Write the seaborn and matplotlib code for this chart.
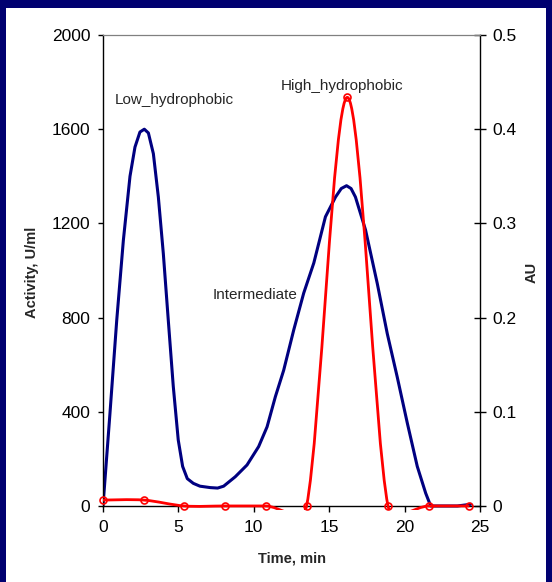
import numpy as np
import matplotlib
matplotlib.use('Agg')
import matplotlib.pyplot as plt
from matplotlib.path import Path
from matplotlib.patches import PathPatch, Rectangle
import seaborn as sns

# --- dados ---
# atividade (U/ml), eixo esquerdo, pontos com marcador
time_red = [0, 2.7, 5.4, 8.1, 10.8, 13.5, 16.2, 18.9, 21.6, 24.3]
activity = [25, 25, 0, 0, 0, 0, 1735, 0, 0, 0]

# absorbância (AU), eixo direito, curva contínua
time_blue = [0, 0.46, 0.91, 1.35, 1.79, 2.12, 2.45, 2.74, 3.01, 3.34, 3.67, 4.0,
             4.33, 4.66, 4.99, 5.28, 5.59, 5.99, 6.43, 7.11, 7.6, 8.0, 8.77, 9.55,
             10.32, 10.88, 11.43, 11.98, 12.65, 13.31, 13.98, 14.75, 15.42, 15.8,
             16.15, 16.45, 16.74, 17.41, 18.19, 18.85, 19.51, 20.18, 20.84, 21.40,
             21.73, 23.50, 24.39]
au_blue = [0, 0.098, 0.197, 0.282, 0.350, 0.381, 0.397, 0.400, 0.396, 0.374, 0.328,
           0.268, 0.197, 0.127, 0.070, 0.042, 0.029, 0.024, 0.021, 0.0195, 0.019,
           0.021, 0.031, 0.0435, 0.063, 0.084, 0.116, 0.144, 0.187, 0.226, 0.258,
           0.307, 0.328, 0.337, 0.340, 0.337, 0.328, 0.293, 0.236, 0.183, 0.137,
           0.088, 0.042, 0.0135, 0, 0, 0.0018]

x_ticks = [0, 5, 10, 15, 20, 25]
act_ticks = [0, 400, 800, 1200, 1600, 2000]
au_ticks = [0, 0.1, 0.2, 0.3, 0.4, 0.5]
au_tick_labels = ['0', '0.1', '0.2', '0.3', '0.4', '0.5']
peak_names = ['Low_hydrophobic', 'High_hydrophobic', 'Intermediate']

NAVY = '#000070'
BLUE = '#000080'
RED = '#ff0000'


def _arm(vec, limit):
    # braço de controle (P2-P0)/6, limitado a metade da corda vizinha
    a = vec / 6
    L = np.hypot(*a)
    if L > limit and L > 0:
        a = a * limit / L
    return a


def excel_smooth(ax, xs, ys):
    # curva suavizada tipo Excel, calculada em pixels
    pts = ax.transData.transform(np.column_stack([xs, ys]).astype(float))
    n = len(pts)
    verts = [pts[0]]
    codes = [Path.MOVETO]
    for i in range(n - 1):
        p0 = pts[max(i - 1, 0)]
        p1 = pts[i]
        p2 = pts[i + 1]
        p3 = pts[min(i + 2, n - 1)]
        d12 = np.hypot(*(p2 - p1))
        c1 = p1 + _arm(p2 - p0, d12 / 2)
        c2 = p2 - _arm(p3 - p1, d12 / 2)
        verts += [c1, c2, p2]
        codes += [Path.CURVE4] * 3
    verts = ax.transData.inverted().transform(np.array(verts))
    return Path(verts, codes)


sns.set_style("ticks")
plt.rcParams['font.family'] = ['Liberation Sans', 'DejaVu Sans']

W, H = 552, 582
fig = plt.figure(figsize=(W / 100, H / 100), dpi=100)
fig.patch.set_facecolor(NAVY)
fig.add_artist(Rectangle((6 / W, 0), 540 / W, (H - 8) / H, transform=fig.transFigure,
                         facecolor='white', edgecolor='none', zorder=0))

ax = fig.add_axes([103 / W, (H - 510.2) / H, 377 / W, 475.2 / H])
ax2 = ax.twinx()
ax.set_zorder(ax2.get_zorder() + 1)
ax.patch.set_visible(False)

y_bottom = -18
ax.set_xlim(0, 25)
ax.set_ylim(y_bottom, 2000)
ax2.set_ylim(y_bottom / 4000, 0.5)

# curva AU (azul)
sns.lineplot(x=time_blue, y=au_blue, ax=ax2, color=BLUE, linewidth=2.2,
             sort=False, estimator=None, solid_joinstyle='round')

# curva de atividade (vermelha) suavizada + marcadores
ax.add_patch(PathPatch(excel_smooth(ax, time_red, activity), fill=False,
                       edgecolor=RED, linewidth=2.0, zorder=3))
sns.lineplot(x=time_red, y=activity, ax=ax, linestyle='none', marker='o',
             markersize=5, markerfacecolor='none', markeredgecolor=RED,
             markeredgewidth=1.2, estimator=None, clip_on=False, zorder=4)

# eixos
for s in ['left', 'right', 'top', 'bottom']:
    ax2.spines[s].set_visible(False)
ax.spines['right'].set_visible(False)
ax.spines['bottom'].set_position(('data', 0))
ax.spines['left'].set_bounds(0, 2000)
ax.spines['top'].set_color('#808080')
ax.spines['top'].set_linewidth(0.9)
for s in ['left', 'bottom']:
    ax.spines[s].set_color('black')
    ax.spines[s].set_linewidth(1.0)
ax2.spines['right'].set_visible(True)
ax2.spines['right'].set_bounds(0, 0.5)
ax2.spines['right'].set_color('black')
ax2.spines['right'].set_linewidth(1.0)

ax.set_xticks(x_ticks)
ax.set_yticks(act_ticks)
ax2.set_yticks(au_ticks)
ax2.set_yticklabels(au_tick_labels)
ax.tick_params(axis='x', direction='out', length=4, width=1, pad=6,
               labelsize=12.5, colors='black', bottom=True, top=False)
ax.tick_params(axis='y', direction='out', length=3.6, width=1, pad=5.5,
               labelsize=12.5, colors='black', left=True, right=False)
ax2.tick_params(axis='y', direction='inout', length=8.4, width=1, pad=4.5,
                labelsize=12.5, colors='black', right=True, left=False)

ax.set_xlabel('Time, min', fontsize=10.5, fontweight='bold')
ax.set_ylabel('Activity, U/ml', fontsize=10.5, fontweight='bold')
ax2.set_ylabel('AU', fontsize=10.5, fontweight='bold', rotation=90)
ax.xaxis.set_label_coords(0.501, -0.102)
ax.xaxis.label.set_va('center')
ax.yaxis.set_label_coords(-0.188, 0.5)
ax.yaxis.label.set_va('center')
ax2.yaxis.set_label_coords(1.138, 0.5)
ax2.yaxis.label.set_va('center')

# rótulos dos picos
ax.text(0.8, 1723, peak_names[0], fontsize=11, ha='left', va='center')
ax.text(11.8, 1783, peak_names[1], fontsize=11, ha='left', va='center')
ax.text(7.3, 896, peak_names[2], fontsize=11, ha='left', va='center')

plt.savefig('out.png', dpi=100, facecolor=fig.get_facecolor())
